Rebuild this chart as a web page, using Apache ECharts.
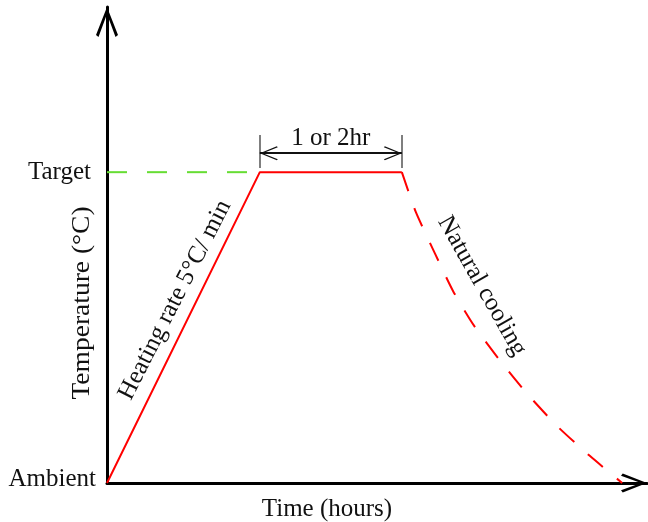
<!DOCTYPE html>
<html>
<head>
<meta charset="utf-8">
<script src="https://cdn.jsdelivr.net/npm/echarts@6/dist/echarts.min.js"></script>
<style>
  html, body { margin: 0; padding: 0; background: #fff; }
  #chart { width: 648px; height: 522px; }
</style>
</head>
<body>
<div id="chart"></div>
<script>
// heating ramp + hold (solid red)
const heatX = [0, 2.83, 5.46];
const heatY = [0, 65.3, 65.3];
// natural cooling (dashed red)
const coolX = [5.46, 5.72, 6.07, 6.41, 6.80, 7.30, 7.80, 8.35, 8.94, 9.54];
const coolY = [65.3, 56.9, 48.3, 40.3, 33.0, 25.4, 18.5, 11.8, 5.7, 0];
// target guide (dashed green)
const guideX = [0, 2.83];
const guideY = [65.3, 65.3];
// y tick labels
const yTickValues = [0, 65.3];
const yTickLabels = ['Ambient', 'Target'];
// hold bracket: x span, tick bottom / arrow / tick top
const holdSpan = [2.83, 5.46];
const bracketY = [66.2, 69.3, 73.1];
const holdLabel = '1 or 2hr';

const serif = 'Liberation Serif';
const font = '25px "Liberation Serif"';
// open chevron, points up
const chevron = 'path://M11,0 L22,28 L19.5,30 L11,7 L2.5,30 L0,28 Z';
const smallChevron = 'path://M7,0 L14,17 L13,18 L7,3 L1,18 L0,17 Z';

const zip = (xs, ys) => xs.map((x, i) => [x, ys[i]]);

let myChart = echarts.init(document.getElementById('chart'));

myChart.setOption({
  animation: false,
  grid: { left: 107, right: 1, top: 7, bottom: 39 },
  xAxis: {
    type: 'value',
    min: 0,
    max: 10,
    axisLine: {
      show: true,
      symbol: ['none', chevron],
      symbolSize: [22, 26],
      symbolOffset: [0, -13],
      lineStyle: { color: '#000', width: 3 }
    },
    axisTick: { show: false },
    axisLabel: { show: false },
    splitLine: { show: false }
  },
  yAxis: {
    type: 'value',
    min: 0,
    max: 100,
    axisLine: {
      show: true,
      symbol: ['none', chevron],
      symbolSize: [22, 30],
      symbolOffset: [0, -15],
      lineStyle: { color: '#000', width: 3 }
    },
    axisTick: { show: false },
    splitLine: { show: false },
    axisLabel: {
      customValues: yTickValues,
      margin: 11,
      formatter: function(v) {
        let i = yTickValues.indexOf(v);
        if (i < 0) return '';
        return i === 0 ? '{a|' + yTickLabels[i] + '}' : '{t|' + yTickLabels[i] + '}';
      },
      rich: {
        a: { fontFamily: serif, fontSize: 25, color: '#111', padding: [0, 0, 8, 0] },
        t: { fontFamily: serif, fontSize: 25, color: '#111', padding: [0, 5, 0, 0] }
      }
    }
  },
  graphic: [
    {
      type: 'text', x: 82, y: 303, rotation: Math.PI / 2, scaleX: 1.1,
      style: { text: 'Temperature (°C)', font: font, fill: '#111', align: 'center', verticalAlign: 'middle' }
    },
    {
      type: 'text', x: 327, y: 509,
      style: { text: 'Time (hours)', font: font, fill: '#111', align: 'center', verticalAlign: 'middle' }
    },
    {
      type: 'text', x: 175, y: 300, rotation: 63 * Math.PI / 180,
      style: { text: 'Heating rate 5°C/ min', font: font, fill: '#111', align: 'center', verticalAlign: 'middle' }
    },
    {
      type: 'text', x: 482, y: 286, rotation: -60.5 * Math.PI / 180,
      style: { text: 'Natural cooling', font: font, fill: '#111', align: 'center', verticalAlign: 'middle' }
    }
  ],
  series: [
    {
      name: 'guide',
      type: 'line',
      data: zip(guideX, guideY),
      symbol: 'none',
      silent: true,
      lineStyle: { color: '#66dd33', width: 2, type: [20, 20] }
    },
    {
      name: 'heat',
      type: 'line',
      data: zip(heatX, heatY),
      symbol: 'none',
      silent: true,
      lineStyle: { color: '#ff0000', width: 2 },
      markLine: {
        silent: true,
        animation: false,
        symbol: 'none',
        label: { show: false },
        data: [
          [
            { coord: [holdSpan[0], bracketY[0]], lineStyle: { color: '#555', width: 1.5, type: 'solid' } },
            { coord: [holdSpan[0], bracketY[2]] }
          ],
          [
            { coord: [holdSpan[1], bracketY[0]], lineStyle: { color: '#555', width: 1.5, type: 'solid' } },
            { coord: [holdSpan[1], bracketY[2]] }
          ],
          [
            {
              coord: [holdSpan[0], bracketY[1]],
              symbol: smallChevron,
              symbolSize: [14, 18],
              symbolOffset: [0, 9],
              lineStyle: { color: '#111', width: 2, type: 'solid' },
              label: {
                show: true,
                position: 'middle',
                formatter: holdLabel,
                distance: 2,
                fontFamily: serif,
                fontSize: 25,
                color: '#111'
              }
            },
            {
              coord: [holdSpan[1], bracketY[1]],
              symbol: smallChevron,
              symbolSize: [14, 18],
              symbolOffset: [0, 9]
            }
          ]
        ]
      }
    },
    {
      name: 'cool',
      type: 'line',
      data: zip(coolX, coolY),
      symbol: 'none',
      smooth: 0.2,
      silent: true,
      lineStyle: { color: '#ff0000', width: 2, type: [20, 18] }
    }
  ]
});
</script>
</body>
</html>
